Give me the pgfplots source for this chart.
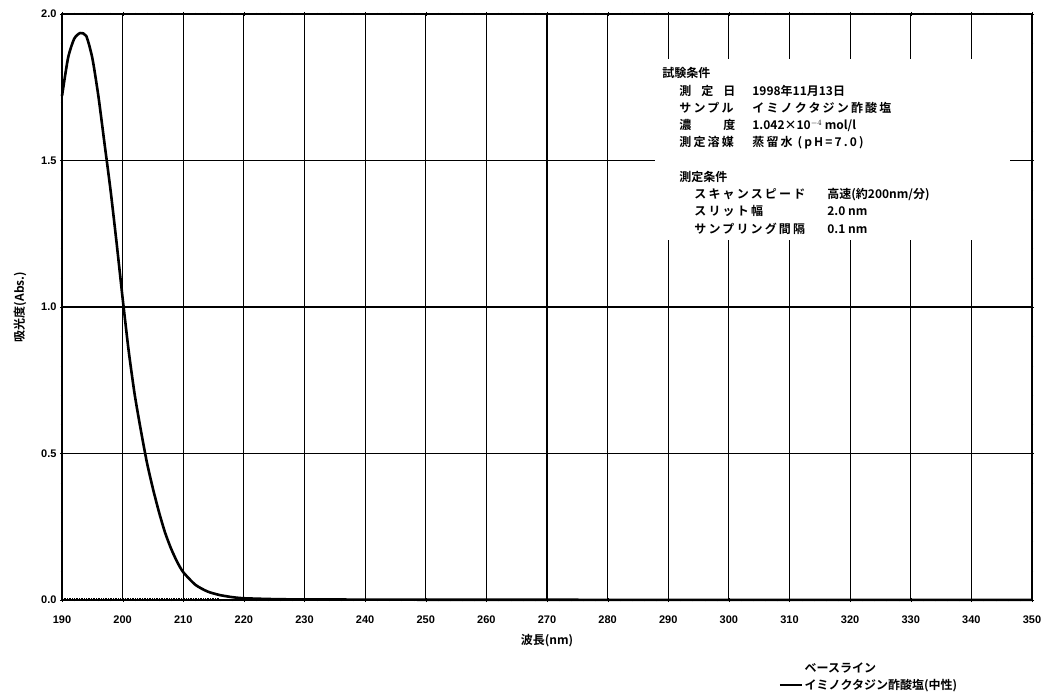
\documentclass[border=0pt]{standalone}
\usepackage{pgfplots}
\pgfplotsset{compat=1.18}
\usepackage{fontspec}
\setmainfont{Liberation Sans}
\newfontfamily\jp{Noto Sans CJK JP}[BoldFont={* Bold}]
\newfontfamily\jpsp{Noto Sans CJK JP}[BoldFont={* Bold}, LetterSpace=18]
\begin{document}
\begin{tikzpicture}
\useasboundingbox (-62pt,-99pt) rectangle (989pt,600pt);
\begin{axis}[
  at={(0,0)}, anchor=south west,
  scale only axis, width=970pt, height=586pt,
  xmin=190, xmax=350, ymin=0, ymax=2,
  xtick={190,200,...,350},
  ytick={0,0.5,1,1.5,2},
  minor ytick={0.1,0.2,...,1.9},
  minor xtick={192,194,...,348},
  grid=major,
  major grid style={black, line width=1.1pt},
  axis line style={black, line width=1.1pt},
  major tick length=4pt, minor tick length=2.5pt,
  tick style={black},
  tick align=center,
  ticklabel style={font=\fontsize{11}{12}\selectfont\bfseries},
  /pgf/number format/assume math mode=true,
  yticklabel style={/pgf/number format/.cd, fixed, fixed zerofill, precision=1},
  xticklabel style={yshift=-10pt},
  xlabel={\jp\bfseries 波長(nm)},
  xlabel style={font=\fontsize{12}{14}\selectfont, yshift=-4pt},
  ylabel={\jp\bfseries 吸光度(Abs.)},
  ylabel style={font=\fontsize{12}{14}\selectfont, yshift=8pt},
  legend style={at={(0.739,-0.104)}, anchor=north west, draw=none, fill=none,
    font=\jp\bfseries\fontsize{12}{14}\selectfont, row sep=1pt,
    legend cell align=left, inner sep=0pt},
  legend image code/.code={\draw[#1, line width=1.6pt] (0pt,0pt) -- (22pt,0pt);},
  clip=false,
]
\fill[white] (axis cs:287.8,1.845) rectangle (axis cs:346.4,1.23);
\addplot[black, densely dotted, line width=0.7pt, legend image code/.code={}] coordinates {(190,0.004) (216,0.004)};
\addlegendentry{ベースライン}
\addplot[black, line width=2.6pt, smooth, tension=0.4] coordinates {
(190,1.72) (191,1.85) (192,1.915) (193,1.935) (194,1.925) (195,1.85)
(196,1.72) (197,1.56) (198,1.40) (199,1.22) (200,1.03) (201,0.85)
(202,0.70) (203,0.58) (204,0.47) (205,0.38) (206,0.30) (207,0.23)
(208,0.175) (209,0.13) (210,0.095) (212,0.052) (214,0.029) (216,0.017)
(218,0.010) (220,0.006) (225,0.003) (230,0.002) (250,0.001) (300,0.0005) (350,0.0005)};
\addlegendentry{イミノクタジン酢酸塩(中性)}
\node[anchor=north west, font=\jp\bfseries\fontsize{12}{17.3}\selectfont, inner sep=0pt, align=left]
  at (axis cs:289.0,1.818) {%
  試験条件\\
  \hspace{17pt}\makebox[73pt][l]{\makebox[56pt][s]{測\hfill 定\hfill 日}}\makebox[0pt][l]{1998年11月13日}\\
  \hspace{17pt}{\jpsp\makebox[73pt][l]{サンプル}}\makebox[0pt][l]{\jpsp イミノクタジン酢酸塩}\\
  \hspace{17pt}\makebox[73pt][l]{\makebox[56pt][s]{濃\hfill 度}}\makebox[0pt][l]{1.042×10$^{-4}$ mol/l}\\
  \hspace{17pt}{\jpsp\makebox[73pt][l]{測定溶媒}}\makebox[0pt][l]{\jpsp 蒸留水 (pH=7.0)}\\[17pt]
  \hspace{17pt}測定条件\\
  \hspace{32pt}{\jpsp\makebox[133pt][l]{スキャンスピード}}\makebox[0pt][l]{高速(約200nm/分)}\\
  \hspace{32pt}{\jpsp\makebox[133pt][l]{スリット幅}}\makebox[0pt][l]{2.0 nm}\\
  \hspace{32pt}{\jpsp\makebox[133pt][l]{サンプリング間隔}}\makebox[0pt][l]{0.1 nm}
  };
\end{axis}
\end{tikzpicture}
\end{document}
